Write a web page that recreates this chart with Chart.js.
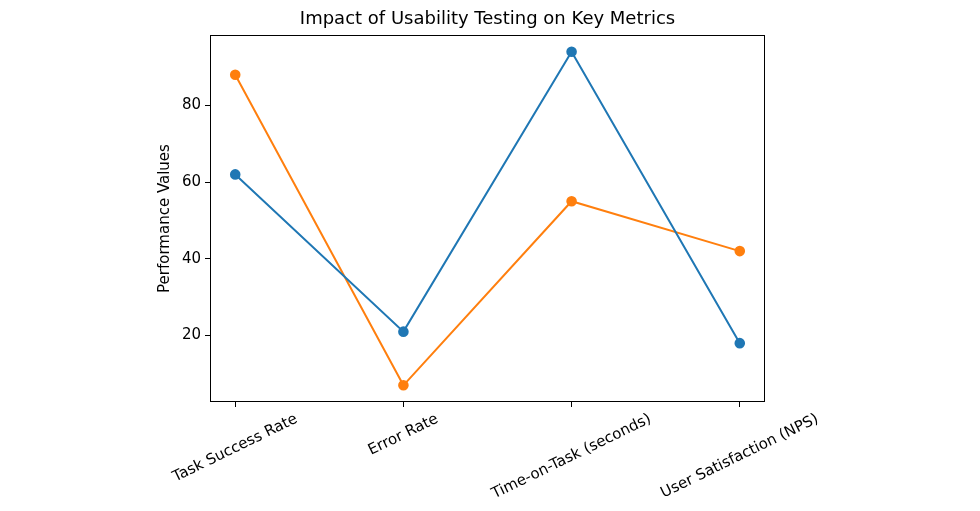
<!DOCTYPE html>
<html>
<head>
<meta charset="utf-8">
<script src="https://cdn.jsdelivr.net/npm/chart.js@4/dist/chart.umd.min.js"></script>
<style>
  html, body { margin: 0; padding: 0; background: #fff; }
  #wrap { width: 980px; height: 511px; }
</style>
</head>
<body>
<div id="wrap"><canvas id="metricsChart" width="980" height="511"></canvas></div>
<script>
// Data
const metrics = ['Task Success Rate', 'Error Rate', 'Time-on-Task (seconds)', 'User Satisfaction (NPS)'];
const seriesA = [62, 21, 94, 18];   // blue
const seriesB = [88, 7, 55, 42];    // orange
const yTicks = [20, 40, 60, 80];

const TITLE = 'Impact of Usability Testing on Key Metrics';
const FONT = 'DejaVu Sans';
const TICK_SIZE = 15;

// frame round the plot (matplotlib spines), title over the axes, rotated category labels
const axesDecor = {
  id: 'axesDecor',
  afterDraw(chart) {
    const { ctx, chartArea: a, scales } = chart;
    ctx.save();
    ctx.strokeStyle = '#000';
    ctx.lineWidth = 1;
    ctx.strokeRect(a.left + 0.5, a.top + 0.5, a.right - a.left - 1, a.bottom - a.top - 1);

    ctx.fillStyle = '#000';
    ctx.textAlign = 'center';
    ctx.textBaseline = 'middle';
    ctx.font = '18px "' + FONT + '"';
    ctx.fillText(TITLE, (a.left + a.right) / 2, 19);

    // category labels, rotated, bbox centred under each tick
    const th = 26 * Math.PI / 180;
    ctx.font = TICK_SIZE + 'px "' + FONT + '"';
    const h = 14;
    metrics.forEach((lab, i) => {
      const x = scales.x.getPixelForValue(i);
      const w = ctx.measureText(lab).width;
      const H = w * Math.sin(th) + h * Math.cos(th);
      const top = a.bottom + 10;
      ctx.save();
      ctx.translate(x, top + H / 2);
      ctx.rotate(-th);
      ctx.fillText(lab, 0, 0);
      ctx.restore();
    });
    ctx.restore();
  }
};

const ctx = document.getElementById('metricsChart').getContext('2d');

new Chart(ctx, {
  type: 'line',
  data: {
    datasets: [
      {
        label: 'Before',
        data: seriesA.map((v, i) => ({ x: i, y: v })),
        borderColor: '#1f77b4',
        backgroundColor: '#1f77b4',
        borderWidth: 2,
        pointRadius: 4.3,
        pointHoverRadius: 4.3,
        tension: 0
      },
      {
        label: 'After',
        data: seriesB.map((v, i) => ({ x: i, y: v })),
        borderColor: '#ff7f0e',
        backgroundColor: '#ff7f0e',
        borderWidth: 2,
        pointRadius: 4.3,
        pointHoverRadius: 4.3,
        tension: 0
      }
    ]
  },
  options: {
    responsive: false,
    animation: false,
    devicePixelRatio: 1,
    layout: { padding: { left: 156, right: 215, top: 35, bottom: 0 } },
    scales: {
      x: {
        type: 'linear',
        min: -0.15,
        max: 3.15,
        afterBuildTicks(scale) { scale.ticks = metrics.map((_, i) => ({ value: i })); },
        afterFit(scale) { scale.height = 109; },
        grid: { drawOnChartArea: false, drawTicks: true, tickLength: 5, tickColor: '#000' },
        border: { display: false },
        ticks: { display: false }
      },
      y: {
        min: 2.65,
        max: 98.35,
        afterBuildTicks(scale) { scale.ticks = yTicks.map(v => ({ value: v })); },
        afterFit(scale) { scale.width = 54; },
        grid: { drawOnChartArea: false, drawTicks: true, tickLength: 5, tickColor: '#000' },
        border: { display: false },
        ticks: {
          color: '#000',
          padding: 4,
          font: { family: FONT, size: TICK_SIZE }
        },
        title: {
          display: true,
          text: 'Performance Values',
          color: '#000',
          padding: 0,
          font: { family: FONT, size: TICK_SIZE }
        }
      }
    },
    plugins: {
      legend: { display: false },
      tooltip: { enabled: false },
      title: { display: false }
    }
  },
  plugins: [axesDecor]
});
</script>
</body>
</html>
